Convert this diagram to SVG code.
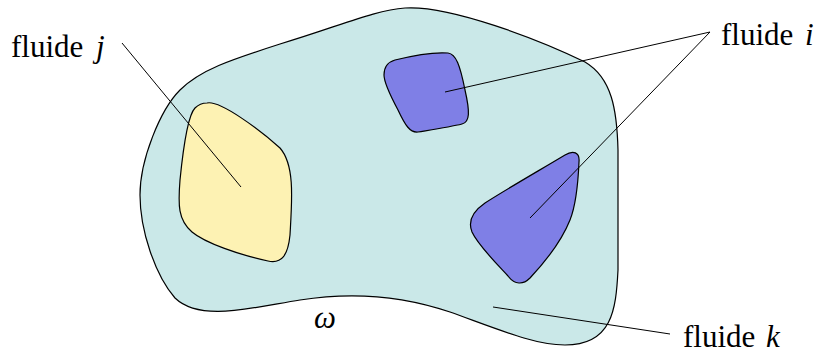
<svg xmlns="http://www.w3.org/2000/svg" width="818" height="353" viewBox="0 0 818 353">
<style>
.region{stroke:#000;stroke-width:1.2;stroke-linejoin:round}
.lead{stroke:#000;stroke-width:1;fill:none}
.lbl{font-family:"Liberation Serif","Times New Roman",serif;font-size:31px;fill:#000}
.it{font-style:italic}
</style>
<rect width="818" height="353" fill="#fff"/>
<g id="omega">
<path class="region" fill="#cae8e8" d="M 405,8 C 450,5 540,40 585,62 C 612,78 617,110 618,150 L 618,270 C 616,310 612,345 565,345 C 535,345 500,330 450,312 C 400,295 350,292 300,300 C 250,308 200,322 175,298 C 155,275 140,230 140,195 C 140,160 160,110 180,90 C 200,70 230,60 280,44 C 340,26 375,10 405,8 Z"/>
</g>
<g id="fluide-j">
<path class="region" fill="#fdf2b3" d="M 207,103 C 220,100 260,130 280,148 C 295,165 292,200 290,235 C 288,255 282,264 268,261 C 240,255 205,243 192,232 C 178,220 178,205 180,180 C 183,150 188,115 195,108 C 199,104 203,103 207,103 Z"/>
</g>
<g id="fluide-i-top">
<path class="region" fill="#7f7fe6" d="M 395,60 C 415,55 435,52 448,53 C 456,54 460,65 465,90 C 470,112 470,122 462,124 C 450,127 430,130 418,132 C 410,133 405,125 398,110 C 390,95 384,82 384,75 C 384,66 388,62 395,60 Z"/>
</g>
<g id="fluide-i-bottom">
<path class="region" fill="#7f7fe6" d="M 565,155 C 573,150 580,152 579,162 C 578,185 576,205 570,220 C 562,240 545,262 530,278 C 523,285 515,285 508,276 C 495,262 478,245 472,232 C 468,222 472,212 485,203 C 505,190 540,170 565,155 Z"/>
</g>
<g id="connectors">
<line class="lead" x1="122" y1="43" x2="241" y2="187"/>
<line class="lead" x1="710" y1="32" x2="445" y2="92"/>
<line class="lead" x1="710" y1="32" x2="530" y2="218"/>
<line class="lead" x1="493" y1="307" x2="670" y2="334"/>
</g>
<g id="labels">
<text class="lbl" x="11" y="57">fluide<tspan class="it" x="96">j</tspan></text>
<text class="lbl" x="721" y="45">fluide<tspan class="it" x="805">i</tspan></text>
<text class="lbl" x="683" y="347">fluide<tspan class="it" x="766">k</tspan></text>
<text class="lbl it" x="314" y="328">ω</text>
</g>
</svg>
